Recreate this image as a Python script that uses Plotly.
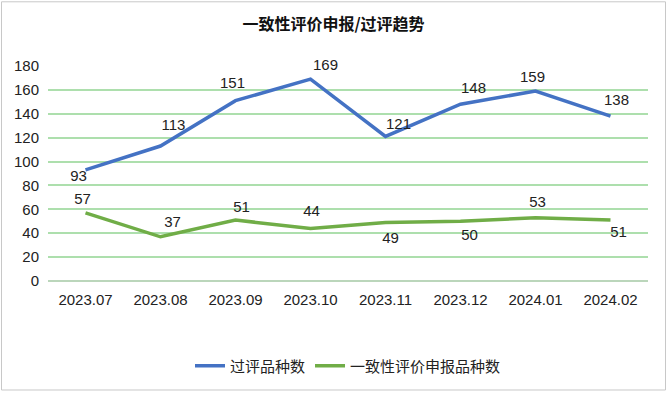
import plotly.graph_objects as go

months = ["2023.07", "2023.08", "2023.09", "2023.10", "2023.11", "2023.12", "2024.01", "2024.02"]
passed = [93, 113, 151, 169, 121, 148, 159, 138]
applied = [57, 37, 51, 44, 49, 50, 53, 51]
yticks = [0, 20, 40, 60, 80, 100, 120, 140, 160, 180]

# label offsets in pixels (style only)
passed_dx = [-7, 13, -3, 15, 13, 13, -3, 6]
passed_dy = [-7, 20, 16, 13, 11, 15, 13, 15]
applied_dx = [-3, 12, 6, 1, 5, 9, 2, 8]
applied_dy = [13, 14, 12, 16, -17, -15, 15, -13]

W, H = 667, 393
ml, mr, mt, mb = 48, 19, 66, 111
pw, ph = W - ml - mr, H - mt - mb
n = len(months)
xs = list(range(n))
px_per_x = pw / n
px_per_y = ph / 180

fig = go.Figure()
fig.add_trace(go.Scatter(x=xs, y=passed, mode="lines", name="过评品种数",
                         line=dict(color="#4472C4", width=3.5), hoverinfo="skip"))
fig.add_trace(go.Scatter(x=xs, y=applied, mode="lines", name="一致性评价申报品种数",
                         line=dict(color="#70AD47", width=3.5), hoverinfo="skip"))

for vals, dxs, dys in ((passed, passed_dx, passed_dy), (applied, applied_dx, applied_dy)):
    fig.add_trace(go.Scatter(
        x=[i + dx / px_per_x for i, dx in zip(xs, dxs)],
        y=[v + dy / px_per_y for v, dy in zip(vals, dys)],
        mode="text", text=[str(v) for v in vals], textposition="middle center",
        textfont=dict(size=15, color="#222222", family="Liberation Sans"),
        cliponaxis=False, showlegend=False, hoverinfo="skip"))

bx0, bx1 = (1.5 - ml) / pw, (W - 1.5 - ml) / pw
by0, by1 = -(H - 1.5 - mt - ph) / ph, 1 + (mt - 1.5) / ph
border = dict(color="#C8C8C8", width=1)
shapes = [
    dict(type="line", xref="paper", yref="paper", x0=bx0, x1=bx1, y0=by0, y1=by0, line=border),
    dict(type="line", xref="paper", yref="paper", x0=bx0, x1=bx1, y0=by1, y1=by1, line=border),
    dict(type="line", xref="paper", yref="paper", x0=bx0, x1=bx0, y0=by0, y1=by1, line=border),
    dict(type="line", xref="paper", yref="paper", x0=bx1, x1=bx1, y0=by0, y1=by1, line=border),
]

fig.update_layout(
    width=W, height=H,
    margin=dict(l=ml, r=mr, t=mt, b=mb),
    paper_bgcolor="white", plot_bgcolor="white",
    font=dict(family="Noto Sans CJK SC, Liberation Sans", color="#222222"),
    title=dict(text="<b>一致性评价申报/过评趋势</b>", x=0.5, xanchor="center",
               y=1 - 24 / H, yanchor="middle",
               font=dict(size=16, family="Noto Sans CJK SC", color="#111111")),
    xaxis=dict(tickmode="array", tickvals=xs, ticktext=months, showgrid=False,
               showline=False, ticks="", zeroline=False, ticklabelstandoff=8,
               tickfont=dict(size=15, family="Liberation Sans", color="#222222"),
               range=[-0.5, n - 0.5]),
    yaxis=dict(range=[0, 180], tickvals=yticks, showgrid=True, gridcolor="#ADDFAD",
               gridwidth=1.5, zeroline=True, zerolinecolor="#BBD6BB", zerolinewidth=1.5,
               showline=False, ticks="", ticklabelstandoff=8,
               tickfont=dict(size=15, family="Liberation Sans", color="#222222")),
    showlegend=True,
    legend=dict(orientation="h", x=0.5, xanchor="center", y=-(366 - mt - ph) / ph, yanchor="middle",
                font=dict(size=15, family="Noto Sans CJK SC", color="#222222"),
                tracegroupgap=0),
    shapes=shapes,
)
fig.write_html("out.html", config={"displayModeBar": False},
               post_script="document.body.style.margin='0';document.body.style.overflow='hidden';")
